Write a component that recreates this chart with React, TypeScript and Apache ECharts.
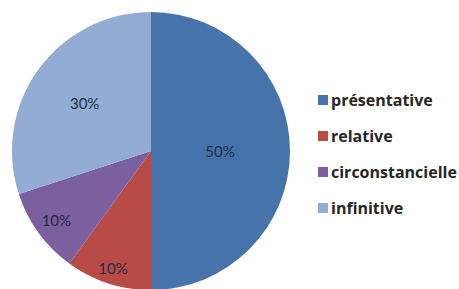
import React, { useEffect, useRef } from "react";
import * as echarts from "echarts";

const categories = ["présentative", "relative", "circonstancielle", "infinitive"];
const values = [50, 10, 10, 30];
const colors = ["#4673a9", "#b94b47", "#7c5f9e", "#93acd4"];
// outer radius of the invisible pie used to place each slice's label
const labelRadii = [132, 240, 228, 158];

export default function App() {
  const ref = useRef<HTMLDivElement>(null);
  useEffect(() => {
    document.body.style.margin = "0";
    const chart = echarts.init(ref.current!, null, { renderer: "svg" });
    const labelStyle = {
      fontFamily: "Lato, 'Open Sans', sans-serif",
      fontSize: 15,
      color: "#1d2b45",
    };
    const overlays = labelRadii.map((r, idx) => ({
      type: "pie",
      center: [151, 151],
      radius: [0, r],
      startAngle: 90,
      clockwise: true,
      silent: true,
      legendHoverLink: false,
      z: 5,
      data: categories.map((name, i) => ({
        name,
        value: values[i],
        itemStyle: { color: "rgba(0,0,0,0)" },
        label: { show: i === idx },
      })),
      label: { position: "inside", formatter: "{d}%", ...labelStyle },
      labelLine: { show: false },
      emphasis: { disabled: true },
    }));
    chart.setOption({
      animation: false,
      color: colors,
      legend: {
        orient: "vertical",
        left: 313,
        top: 87,
        itemWidth: 10,
        itemHeight: 10,
        itemGap: 20,
        icon: "rect",
        data: categories,
        textStyle: {
          fontFamily: "'Open Sans', sans-serif",
          fontWeight: "bold",
          fontSize: 16,
          lineHeight: 16,
          color: "#262626",
          padding: [0, 0, 0, -2],
        },
      },
      series: [
        {
          type: "pie",
          center: [151, 151],
          radius: [0, 139],
          startAngle: 90,
          clockwise: true,
          data: categories.map((name, i) => ({
            name,
            value: values[i],
            itemStyle: { color: colors[i] },
          })),
          label: { show: false },
          labelLine: { show: false },
          itemStyle: { borderWidth: 0 },
          emphasis: { disabled: true },
        },
        ...overlays,
      ],
    });
    return () => chart.dispose();
  }, []);
  return <div ref={ref} style={{ width: 459, height: 289 }} />;
}
